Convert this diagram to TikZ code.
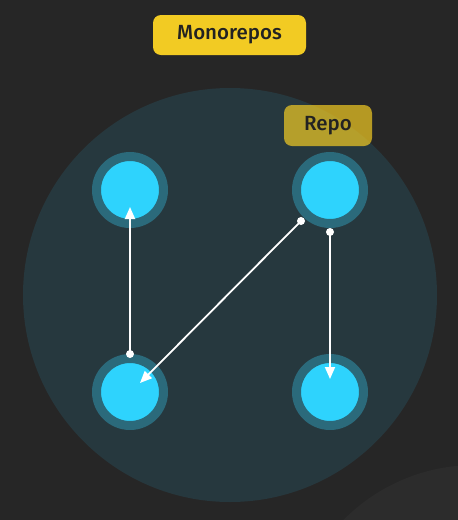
\documentclass[tikz,border=0pt]{standalone}
\usepackage{fontspec}
\setmainfont{Fira Sans}[UprightFont=* Medium]
\usetikzlibrary{arrows.meta}
\definecolor{bg}{HTML}{262626}
\definecolor{bigc}{HTML}{26383E}
\definecolor{ring}{HTML}{2B6A7B}
\definecolor{core}{HTML}{2ED3FD}
\definecolor{gold}{HTML}{F2CB23}
\definecolor{txt}{HTML}{222222}
\tikzset{
  repo/.style={circle, fill=core, draw=ring, line width=9pt, minimum size=67pt, inner sep=0pt},
  label box/.style={rounded corners=8pt, text=txt, font=\fontsize{20.5}{24}\selectfont, inner sep=0pt},
  link/.style={draw=white, line width=1.8pt, -{Triangle[length=12pt,width=10pt]}},
  startdot/.style={circle, fill=white, minimum size=8pt, inner sep=0pt}
}
\begin{document}
\begin{tikzpicture}[x=1pt,y=-1pt]
\fill[bg] (0,0) rectangle (458,520);
\useasboundingbox (0,0) rectangle (458,520);
\begin{scope}
\clip (0,0) rectangle (458,520);
\fill[color={rgb,255:red,44;green,44;blue,44}] (475,650) circle (185);
\end{scope}
\fill[bigc] (230,295) circle (207);
\node[label box, fill=gold, minimum width=153pt, minimum height=40pt] (mono) at (229.5,35) {Monorepos};
\node[label box, fill=gold, fill opacity=0.7, text opacity=1, minimum width=88pt, minimum height=41pt] (repolbl) at (328,125.5) {Repo};
\node[repo] (tl) at (130,190) {};
\node[repo] (tr) at (330,190) {};
\node[repo] (bl) at (130,392) {};
\node[repo] (br) at (330,392) {};
\node[startdot] (d1) at (130,354) {};
\node[startdot] (d2) at (301,221) {};
\node[startdot] (d3) at (330,232) {};
\coordinate (e1) at (130,207);
\coordinate (e2) at (140,383);
\coordinate (e3) at (330,379);
\draw[link] (d1.center) -- (e1);
\draw[link] (d2.center) -- (e2);
\draw[link] (d3.center) -- (e3);
\end{tikzpicture}
\end{document}
